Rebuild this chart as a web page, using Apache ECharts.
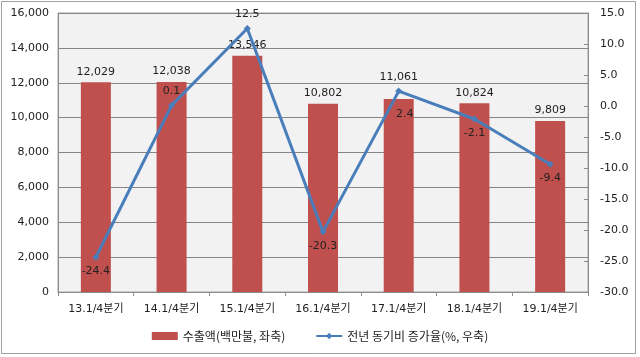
<!DOCTYPE html>
<html><head><meta charset="utf-8">
<script src="https://cdn.jsdelivr.net/npm/echarts@6/dist/echarts.min.js"></script>
<style>html,body{margin:0;padding:0;background:#fff}#c{width:640px;height:357px}</style>
</head><body><div id="c"></div>
<script>
const categories = ['13.1/4분기','14.1/4분기','15.1/4분기','16.1/4분기','17.1/4분기','18.1/4분기','19.1/4분기'];
const exports = [12029, 12038, 13546, 10802, 11061, 10824, 9809];
const growth = [-24.4, 0.1, 12.5, -20.3, 2.4, -2.1, -9.4];
const seriesNames = ['수출액(백만불, 좌축)', '전년 동기비 증가율(%, 우축)'];

const numFont = 'DejaVu Sans, Noto Sans CJK KR, sans-serif';
const chart = echarts.init(document.getElementById('c'));
chart.setOption({
  animation: false,
  backgroundColor: '#fff',
  textStyle: { fontFamily: numFont },
  graphic: [{ type: 'rect', shape: { x: 1.5, y: 1.5, width: 634, height: 352 },
    style: { fill: 'none', stroke: '#a0a0a0', lineWidth: 1 }, silent: true }],
  grid: { left: 58, right: 52, top: 13, bottom: 65, show: true,
    backgroundColor: '#f2f2f2', borderColor: '#a6a6a6', borderWidth: 1 },
  legend: {
    bottom: 10, left: 'center', itemGap: 30, itemWidth: 26, itemHeight: 8,
    textStyle: { fontSize: 12, color: '#222', fontFamily: 'Noto Sans CJK KR, sans-serif' },
    data: [{ name: seriesNames[0], icon: 'rect' }, { name: seriesNames[1] }]
  },
  xAxis: {
    type: 'category', data: categories,
    axisLine: { lineStyle: { color: '#8c8c8c' } },
    axisTick: { show: true, length: 4, lineStyle: { color: '#8c8c8c' } },
    axisLabel: { color: '#222', fontSize: 11, margin: 12, fontFamily: numFont }
  },
  yAxis: [{
    type: 'value', min: 0, max: 16000, interval: 2000,
    axisLine: { show: true, lineStyle: { color: '#8c8c8c' } },
    axisTick: { show: false },
    splitLine: { lineStyle: { color: '#858585', width: 1 } },
    axisLabel: { color: '#222', fontSize: 11, margin: 9,
      formatter: v => v.toLocaleString('en-US') }
  }, {
    type: 'value', min: -30, max: 15, interval: 5,
    axisLine: { show: true, lineStyle: { color: '#8c8c8c' } },
    axisTick: { show: true, inside: true, length: 4, lineStyle: { color: '#8c8c8c' } },
    splitLine: { show: false },
    axisLabel: { color: '#222', fontSize: 11, margin: 12, formatter: v => v.toFixed(1) }
  }],
  series: [{
    name: seriesNames[0], type: 'bar', yAxisIndex: 0,
    data: exports.map((v, i) => ({ value: v,
      label: { distance: i === 4 ? 16 : 5 } })),
    barWidth: 30,
    itemStyle: { color: '#c0504d' },
    label: { show: true, position: 'top', color: '#222', fontSize: 11,
      formatter: p => p.value.toLocaleString('en-US') }
  }, {
    name: seriesNames[1], type: 'line', yAxisIndex: 1,
    data: growth.map((v, i) => ({ value: v,
      label: { position: (i === 1 || i === 2) ? 'top' : 'bottom',
        distance: i === 4 ? 14 : 5, offset: i === 4 ? [6, 0] : [0, 0] } })),
    symbol: 'diamond', symbolSize: 7,
    lineStyle: { color: '#4a7ebb', width: 3 },
    itemStyle: { color: '#4a7ebb' },
    label: { show: true, color: '#222', fontSize: 11,
      formatter: p => p.value.toFixed(1) },
    z: 5
  }]
});
</script></body></html>
